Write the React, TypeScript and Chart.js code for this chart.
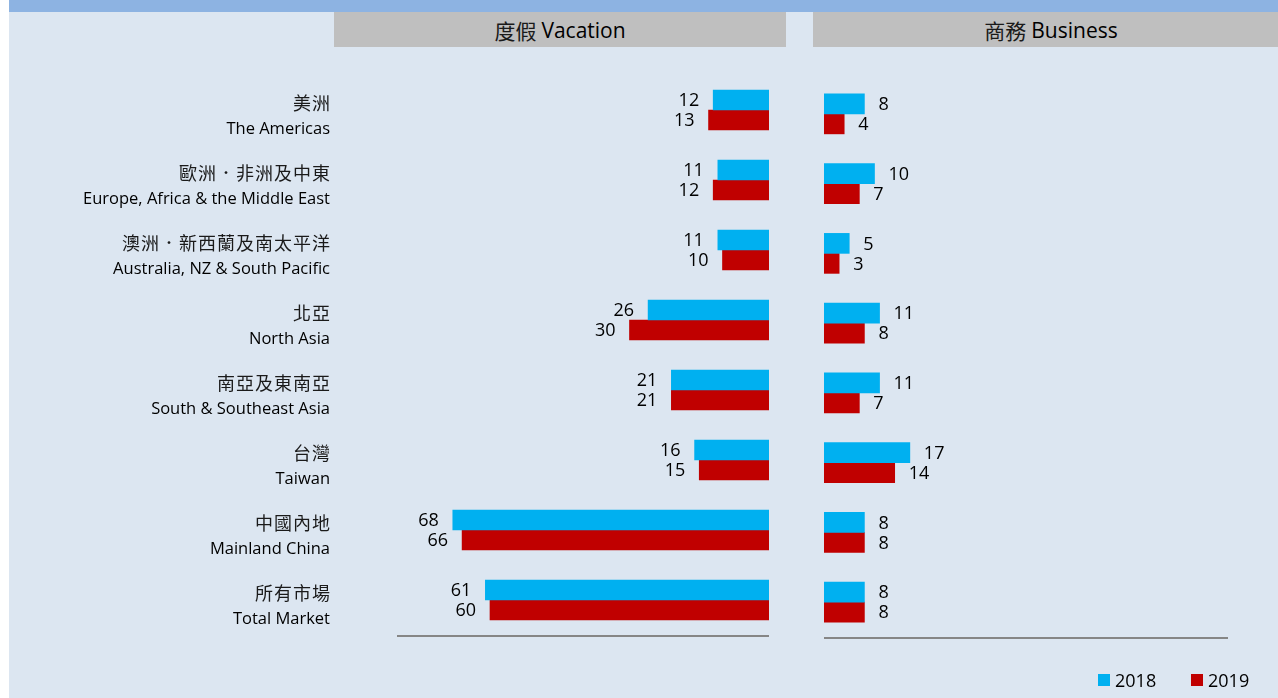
import React, { useEffect, useRef } from "react";
import { Chart, registerables } from "chart.js";

Chart.register(...registerables);

const categoriesZh = ["美洲", "歐洲．非洲及中東", "澳洲．新西蘭及南太平洋", "北亞", "南亞及東南亞", "台灣", "中國內地", "所有市場"];
const categoriesEn = ["The Americas", "Europe, Africa & the Middle East", "Australia, NZ & South Pacific", "North Asia", "South & Southeast Asia", "Taiwan", "Mainland China", "Total Market"];
const years = ["2018", "2019"];
const vacation2018 = [12, 11, 11, 26, 21, 16, 68, 61];
const vacation2019 = [13, 12, 10, 30, 21, 15, 66, 60];
const business2018 = [8, 10, 5, 11, 11, 17, 8, 8];
const business2019 = [4, 7, 3, 8, 7, 14, 8, 8];
const panelTitles = ["度假 Vacation", "商務 Business"];
const seriesColors = ["#00b0f0", "#c00000"];

const FONT_EN = '"Open Sans", "Noto Sans", sans-serif';
const FONT_ZH = '"Noto Sans CJK TC", "Noto Sans CJK SC", sans-serif';

function makePlugin(side: "left" | "right") {
  return {
    id: "customLabels" + side,
    afterDatasetsDraw(chart: any) {
      const ctx = chart.ctx;
      ctx.save();
      ctx.font = "18px " + FONT_EN;
      ctx.fillStyle = "#000";
      ctx.textBaseline = "middle";
      ctx.textAlign = side === "left" ? "right" : "left";
      chart.data.datasets.forEach((ds: any, di: number) => {
        const meta = chart.getDatasetMeta(di);
        meta.data.forEach((el: any, i: number) => {
          const x = side === "left" ? el.x - 14 : el.x + 14;
          ctx.fillText(String(ds.data[i]), x, el.y + 1);
        });
      });
      const a = chart.chartArea;
      ctx.strokeStyle = "#868686";
      ctx.lineWidth = 2;
      ctx.beginPath();
      ctx.moveTo(a.left, a.bottom + 1);
      ctx.lineTo(a.right, a.bottom + 1);
      ctx.stroke();
      if (side === "left") {
        const yScale = chart.scales.y;
        ctx.textAlign = "right";
        ctx.fillStyle = "#000";
        categoriesZh.forEach((zh, i) => {
          const cy = yScale.getPixelForValue(i);
          ctx.font = "18px " + FONT_ZH;
          (ctx as any).letterSpacing = "1px";
          ctx.fillStyle = "#1a1a1a";
          ctx.fillText(zh, 331, cy - 7);
          (ctx as any).letterSpacing = "0px";
          ctx.fillStyle = "#000";
          ctx.font = "16.5px " + FONT_EN;
          ctx.fillText(categoriesEn[i], 330, cy + 19);
        });
      }
      ctx.restore();
    },
  };
}

function makeConfig(side: "left" | "right", d2018: number[], d2019: number[], padding: any): any {
  return {
    type: "bar",
    data: {
      labels: categoriesEn,
      datasets: [
        { label: years[0], data: d2018, backgroundColor: seriesColors[0], barThickness: 20 },
        { label: years[1], data: d2019, backgroundColor: seriesColors[1], barThickness: 20 },
      ],
    },
    options: {
      indexAxis: "y",
      responsive: false,
      animation: false,
      devicePixelRatio: 1,
      layout: { padding },
      plugins: { legend: { display: false }, tooltip: { enabled: false } },
      scales: {
        x: { display: false, min: 0, max: 80, reverse: side === "left" },
        y: { display: false, offset: true },
      },
    },
    plugins: [makePlugin(side)],
  };
}

const headerStyle: any = {
  position: "absolute",
  top: 12,
  height: 35,
  background: "#bfbfbf",
  display: "flex",
  alignItems: "center",
  justifyContent: "center",
  fontFamily: FONT_EN,
  fontSize: 21,
  color: "#000",
};

export default function App() {
  const leftRef = useRef<HTMLCanvasElement>(null);
  const rightRef = useRef<HTMLCanvasElement>(null);

  useEffect(() => {
    const c1 = new Chart(leftRef.current as any, makeConfig("left", vacation2018, vacation2019, { left: 397, right: 31, top: 75, bottom: 63 }));
    const c2 = new Chart(rightRef.current as any, makeConfig("right", business2018, business2019, { left: 24, right: 50, top: 79, bottom: 61 }));
    return () => {
      c1.destroy();
      c2.destroy();
    };
  }, []);

  return (
    <div style={{ position: "fixed", left: 0, top: 0, width: 1278, height: 698, background: "#ffffff", overflow: "hidden" }}>
      <div style={{ position: "absolute", left: 9, top: 0, width: 1269, height: 698, background: "#dce6f1" }} />
      <div style={{ position: "absolute", left: 9, top: 0, width: 1269, height: 12, background: "#8db3e2" }} />
      <div style={{ ...headerStyle, left: 334, width: 452 }}>
        <span style={{ fontFamily: FONT_ZH, color: "#1a1a1a" }}>{panelTitles[0].split(" ")[0]}</span>
        <span style={{ marginLeft: 5 }}>{panelTitles[0].split(" ")[1]}</span>
      </div>
      <div style={{ ...headerStyle, left: 813, width: 476 }}>
        <span style={{ fontFamily: FONT_ZH, color: "#1a1a1a" }}>{panelTitles[1].split(" ")[0]}</span>
        <span style={{ marginLeft: 5 }}>{panelTitles[1].split(" ")[1]}</span>
      </div>
      <canvas ref={leftRef} width={800} height={698} style={{ position: "absolute", left: 0, top: 0, width: 800, height: 698 }} />
      <canvas ref={rightRef} width={478} height={698} style={{ position: "absolute", left: 800, top: 0, width: 478, height: 698 }} />
      {years.map((y, i) => (
        <div key={y} style={{ position: "absolute", left: i === 0 ? 1098 : 1191, top: 668, height: 24, display: "flex", alignItems: "center", fontFamily: FONT_EN, fontSize: 18, color: "#000" }}>
          <span style={{ display: "inline-block", width: 12, height: 12, background: seriesColors[i], marginRight: 5 }} />
          <span>{y}</span>
        </div>
      ))}
    </div>
  );
}
